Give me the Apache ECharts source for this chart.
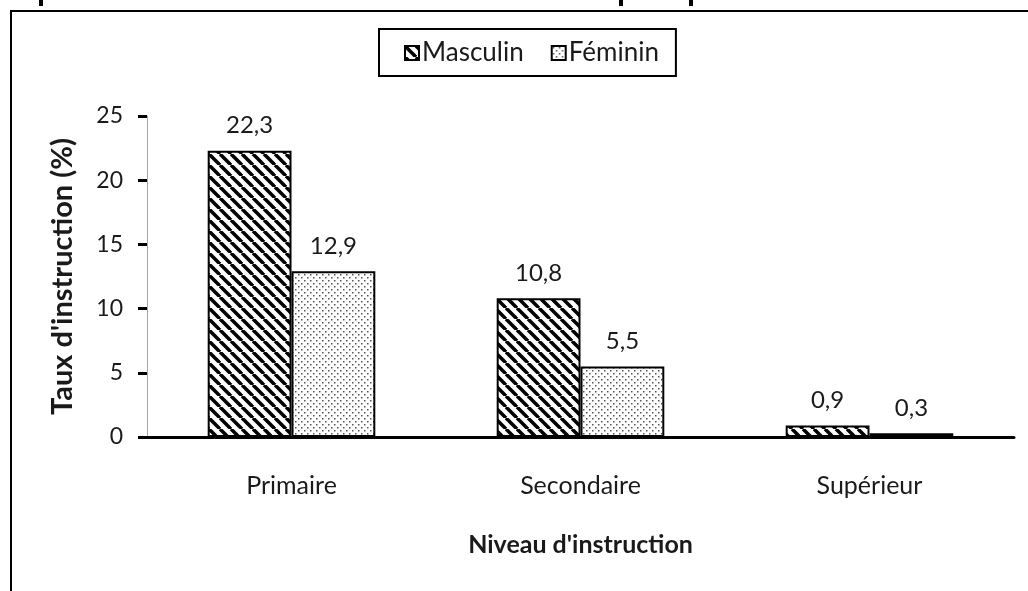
<!DOCTYPE html>
<html>
<head>
<meta charset="utf-8">
<style>
  html, body { margin: 0; padding: 0; background: #fff; }
  #chart { width: 1028px; height: 591px; }
</style>
<script src="https://cdn.jsdelivr.net/npm/echarts@6/dist/echarts.min.js"></script>
</head>
<body>
<div id="chart"></div>
<script>
  // données
  const niveaux = ['Primaire', 'Secondaire', 'Supérieur']
  const masculin = [22.3, 10.8, 0.9]
  const feminin = [12.9, 5.5, 0.3]
  const yTicks = [0, 5, 10, 15, 20, 25]

  const font = 'Lato, "Open Sans", sans-serif'
  const ink = '#1a1a1a'

  // motif hachuré (\\\) pour Masculin
  function hatchPattern() {
    const s = 11
    const c = document.createElement('canvas')
    c.width = s
    c.height = s
    const ctx = c.getContext('2d')
    ctx.fillStyle = '#fff'
    ctx.fillRect(0, 0, s, s)
    ctx.strokeStyle = '#000'
    ctx.lineWidth = 3.5
    for (let x0 = -s; x0 <= s; x0 += s) {
      ctx.beginPath()
      ctx.moveTo(x0, 0)
      ctx.lineTo(x0 + s, s)
      ctx.stroke()
    }
    return c
  }

  // motif pointillé pour Féminin
  function dotPattern() {
    const s = 6
    const c = document.createElement('canvas')
    c.width = s
    c.height = s
    const ctx = c.getContext('2d')
    ctx.fillStyle = '#fff'
    ctx.fillRect(0, 0, s, s)
    ctx.fillStyle = '#555'
    ctx.fillRect(1, 1, 1.5, 1.5)
    ctx.fillRect(4, 4, 1.5, 1.5)
    return c
  }

  const labelFmt = (p) => String(p.value).replace('.', ',')

  const chart = echarts.init(document.getElementById('chart'))
  const option = {
    backgroundColor: '#fff',
    animation: false,
    textStyle: { fontFamily: font, color: ink },
    graphic: [
      // cadre du graphique
      {
        type: 'rect',
        shape: { x: 11, y: 11, width: 1040, height: 600 },
        style: { fill: 'none', stroke: '#000', lineWidth: 2 },
        silent: true
      },
      // restes du titre coupé en haut
      { type: 'rect', shape: { x: 39, y: 0, width: 4, height: 6 }, style: { fill: '#000' } },
      { type: 'rect', shape: { x: 619, y: 0, width: 4, height: 6 }, style: { fill: '#000' } },
      { type: 'rect', shape: { x: 689, y: 0, width: 4, height: 6 }, style: { fill: '#000' } }
    ],
    legend: {
      left: 379,
      top: 29,
      padding: [11, 17, 10, 25],
      itemGap: 27,
      itemWidth: 14,
      itemHeight: 14,
      itemStyle: { borderColor: '#000', borderWidth: 2 },
      borderColor: '#000',
      borderWidth: 2,
      textStyle: { fontSize: 26, color: ink, fontFamily: font, padding: [0, 0, 0, -2] },
      data: [
        { name: 'Masculin', icon: 'rect' },
        { name: 'Féminin', icon: 'rect' }
      ]
    },
    grid: { left: 147, right: 14, top: 116, bottom: 154 },
    xAxis: {
      type: 'category',
      data: niveaux,
      name: "Niveau d'instruction",
      nameLocation: 'middle',
      nameGap: 95,
      nameTextStyle: { fontSize: 25, fontWeight: 'bold', color: ink },
      axisLine: { lineStyle: { color: '#000', width: 3 } },
      axisTick: { length: 9, lineStyle: { color: '#000', width: 3 } },
      axisLabel: { fontSize: 25, color: ink, margin: 36 }
    },
    yAxis: {
      type: 'value',
      min: yTicks[0],
      max: yTicks[yTicks.length - 1],
      interval: yTicks[1] - yTicks[0],
      name: "Taux d'instruction (%)",
      nameLocation: 'middle',
      nameGap: 70,
      nameTextStyle: { fontSize: 29, fontWeight: 'bold', color: ink },
      axisLine: { show: true, lineStyle: { color: '#a6a6a6', width: 1 } },
      axisTick: { show: true, length: 9, lineStyle: { color: '#000', width: 3 } },
      axisLabel: { fontSize: 23, color: ink, margin: 24 },
      splitLine: { show: false }
    },
    series: [
      {
        name: 'Masculin',
        type: 'bar',
        data: masculin,
        barGap: '0%',
        barCategoryGap: '42%',
        itemStyle: {
          color: { image: hatchPattern(), repeat: 'repeat' },
          borderColor: '#000',
          borderWidth: 2
        },
        label: { show: true, position: 'top', distance: 13, fontSize: 24, color: ink, formatter: labelFmt }
      },
      {
        name: 'Féminin',
        type: 'bar',
        data: feminin,
        itemStyle: {
          color: { image: dotPattern(), repeat: 'repeat' },
          borderColor: '#000',
          borderWidth: 2
        },
        label: { show: true, position: 'top', distance: 13, fontSize: 24, color: ink, formatter: labelFmt }
      }
    ]
  }
  chart.setOption(option)
</script>
</body>
</html>
